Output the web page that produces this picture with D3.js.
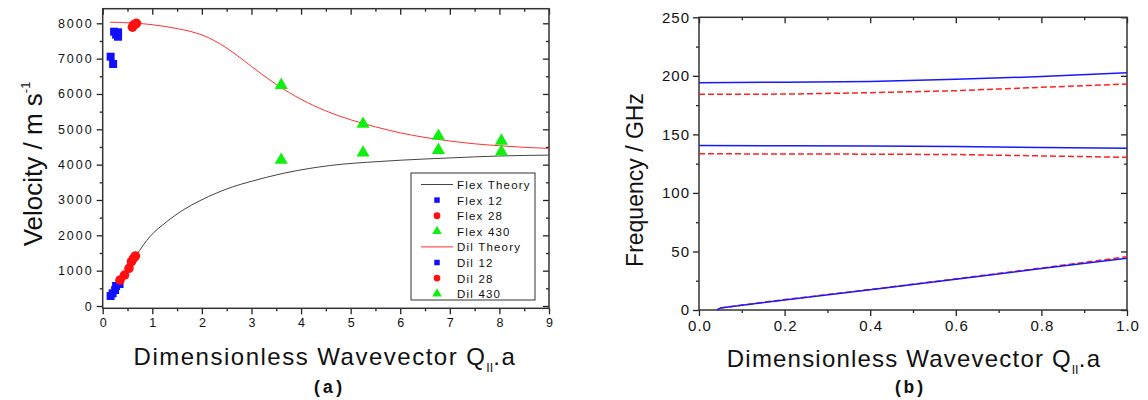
<!DOCTYPE html>
<html>
<head>
<meta charset="utf-8">
<script src="https://cdn.jsdelivr.net/npm/d3@7"></script>
<style>
body { margin: 0; background: #fff; }
text { font-family: Arial, "Liberation Sans", sans-serif; fill: #111; }
</style>
</head>
<body>
<script>
//---- panel (a) data ----
var dilTheoryX = [0.15, 0.5, 1.0, 1.5, 2.0, 2.5, 3.0, 3.5, 4.0, 4.5, 5.0, 5.5, 6.0, 6.5, 7.0, 7.5, 8.0, 8.5, 9.0];
var dilTheoryY = [8030, 8015, 7960, 7850, 7670, 7300, 6780, 6270, 5850, 5520, 5270, 5070, 4900, 4770, 4670, 4590, 4535, 4490, 4460];
var flexTheoryX = [0.15, 0.3, 0.45, 0.68, 0.95, 1.29, 1.62, 1.96, 2.3, 2.63, 2.97, 3.3, 3.64, 3.98, 4.58, 5.59, 6.0, 7.0, 8.0, 9.0];
var flexTheoryY = [280, 620, 960, 1443, 1960, 2385, 2716, 2980, 3200, 3376, 3517, 3641, 3755, 3848, 3975, 4090, 4125, 4190, 4245, 4270];

var flex12X = [0.16, 0.21, 0.23, 0.31, 0.31, 0.27];
var flex12Y = [7055, 6848, 7762, 7745, 7620, 7680];
var flex28X = [0.62, 0.66, 0.60, 0.68];
var flex28Y = [7951, 7980, 7890, 8000];
var flex430X = [3.6, 5.25, 6.77, 8.04];
var flex430Y = [6250, 5150, 4810, 4670];

var dil12X = [0.16, 0.20, 0.25, 0.27, 0.34];
var dil12Y = [283, 360, 450, 566, 622];
var dil28X = [0.35, 0.44, 0.53, 0.58, 0.62, 0.66];
var dil28Y = [736, 877, 1066, 1254, 1349, 1415];
var dil430X = [3.6, 5.25, 6.77, 8.04];
var dil430Y = [4130, 4335, 4410, 4365];

var legendLabels = ["Flex Theory", "Flex 12", "Flex 28", "Flex 430", "Dil Theory", "Dil 12", "Dil 28", "Dil 430"];

//---- panel (b) data ----
var qX = [0.0, 0.2, 0.4, 0.6, 0.8, 1.0];
var blueUpper = [194.2, 194.5, 195.2, 197.0, 199.4, 202.7];
var redUpper = [184.2, 184.4, 185.6, 187.3, 190.2, 193.0];
var blueMiddle = [140.4, 140.3, 140.1, 139.6, 138.7, 138.1];
var redMiddle = [133.4, 133.3, 133.1, 132.8, 131.6, 130.4];
var blueLowX = [0.042, 0.05, 0.2, 0.4, 0.6, 0.8, 1.0];
var blueLowY = [0, 1.8, 8.6, 17.2, 26.3, 35.4, 44.2];
var redLowX = [0.05, 0.2, 0.4, 0.6, 0.8, 1.0];
var redLowY = [1.8, 8.9, 17.5, 26.6, 35.9, 45.5];

var width = 1148, height = 400;

var svg = d3.select("body").append("svg")
    .attr("width", width)
    .attr("height", height);

function zip(xs, ys){
    return xs.map(function(x, i){ return [x, ys[i]]; });
}

//draw frame with outward ticks on bottom/left, inward on top/right
function drawFrame(g, x, y, opt){
    var x0 = x.range()[0], x1 = x.range()[1], y0 = y.range()[0], y1 = y.range()[1];

    var minorX = d3.range(opt.xMin[0], opt.xMin[1] + 1e-9, opt.xMin[2]);
    var minorY = d3.range(opt.yMin[0], opt.yMin[1] + 1e-9, opt.yMin[2]);

    var bottom = g.append("g").attr("transform", "translate(0," + y0 + ")")
        .call(d3.axisBottom(x).tickValues(opt.xTicks).tickFormat(opt.xFmt).tickSize(6).tickSizeOuter(0).tickPadding(4));
    g.append("g").attr("transform", "translate(0," + y0 + ")")
        .call(d3.axisBottom(x).tickValues(minorX).tickFormat("").tickSize(3).tickSizeOuter(0));
    g.append("g").attr("transform", "translate(" + x0 + ",0)")
        .call(d3.axisLeft(y).tickValues(opt.yTicks).tickFormat(d3.format("d")).tickSize(6).tickSizeOuter(0).tickPadding(opt.yPad));
    g.append("g").attr("transform", "translate(" + x0 + ",0)")
        .call(d3.axisLeft(y).tickValues(minorY).tickFormat("").tickSize(3).tickSizeOuter(0));

    g.append("g").attr("transform", "translate(0," + y1 + ")")
        .call(d3.axisTop(x).tickValues(opt.xTicks).tickFormat("").tickSize(-6).tickSizeOuter(0));
    g.append("g").attr("transform", "translate(0," + y1 + ")")
        .call(d3.axisTop(x).tickValues(minorX).tickFormat("").tickSize(-3).tickSizeOuter(0));
    g.append("g").attr("transform", "translate(" + x1 + ",0)")
        .call(d3.axisRight(y).tickValues(opt.yTicks).tickFormat("").tickSize(-6).tickSizeOuter(0));
    g.append("g").attr("transform", "translate(" + x1 + ",0)")
        .call(d3.axisRight(y).tickValues(minorY).tickFormat("").tickSize(-3).tickSizeOuter(0));

    g.selectAll(".domain").remove();
    g.selectAll(".tick line").attr("stroke", "#222").attr("stroke-width", 1.3);
    g.selectAll(".tick text")
        .style("font-family", "Arial, 'Liberation Sans', sans-serif")
        .style("font-size", opt.tickFont + "px")
        .style("letter-spacing", opt.tickSpacing + "px")
        .attr("fill", "#111");
    bottom.selectAll(".tick text").attr("dx", opt.tickSpacing / 2);

    g.append("rect")
        .attr("x", x0).attr("y", y1)
        .attr("width", x1 - x0).attr("height", y0 - y1)
        .attr("fill", "none").attr("stroke", "#333").attr("stroke-width", 1.5);
}

//x label with Q subscript ll
function xLabel(g, cx, cy, size, sp){
    var t = g.append("text")
        .attr("x", cx).attr("y", cy)
        .attr("text-anchor", "middle")
        .style("font-size", size + "px")
        .style("letter-spacing", sp + "px");
    t.append("tspan").text("Dimensionless Wavevector Q");
    t.append("tspan").text("ll").attr("fill", "#111")
        .style("font-size", (size * 0.55) + "px").style("letter-spacing", "0.5px").attr("dy", 7);
    t.append("tspan").text(".a").attr("dy", -7);
}

//================ panel (a) ================
var xa = d3.scaleLinear().domain([0, 9]).range([102.7, 549]);
var ya = d3.scaleLinear().domain([-65, 8413]).range([308.3, 8.7]);

var ga = svg.append("g");

drawFrame(ga, xa, ya, {
    xTicks: d3.range(0, 10, 1), xFmt: d3.format("d"), xMin: [0.5, 8.5, 1],
    yTicks: d3.range(0, 8001, 1000), yMin: [500, 7500, 1000],
    tickFont: 12.5, tickSpacing: 2, yPad: 3
});

var flexLine = d3.line()
    .x(function(d){ return xa(d[0]); })
    .y(function(d){ return ya(d[1]); })
    .curve(d3.curveMonotoneX);
var dilLine = d3.line()
    .x(function(d){ return xa(d[0]); })
    .y(function(d){ return ya(d[1]); })
    .curve(d3.curveNatural);

ga.append("path").datum(zip(flexTheoryX, flexTheoryY))
    .attr("d", flexLine).attr("fill", "none").attr("stroke", "#444").attr("stroke-width", 1);
ga.append("path").datum(zip(dilTheoryX, dilTheoryY))
    .attr("d", dilLine).attr("fill", "none").attr("stroke", "#ff3030").attr("stroke-width", 1);

var blue = "#1010ff", red = "#ff1010", green = "#10f010";
var sq = d3.symbol().type(d3.symbolSquare).size(64);
var ci = d3.symbol().type(d3.symbolCircle).size(72);
var tri = d3.symbol().type(d3.symbolTriangle).size(75);

function scatter(xs, ys, sym, col){
    ga.selectAll(null).data(zip(xs, ys)).enter()
        .append("path")
        .attr("d", sym)
        .attr("transform", function(d){ return "translate(" + xa(d[0]) + "," + ya(d[1]) + ")"; })
        .attr("fill", col);
}
scatter(flex12X, flex12Y, sq, blue);
scatter(dil12X, dil12Y, sq, blue);
scatter(flex28X, flex28Y, ci, red);
scatter(dil28X, dil28Y, ci, red);
scatter(flex430X, flex430Y, tri, green);
scatter(dil430X, dil430Y, tri, green);

//legend
var leg = ga.append("g");
leg.append("rect")
    .attr("x", 411).attr("y", 173).attr("width", 124).attr("height", 127)
    .attr("fill", "#fff").attr("stroke", "#333").attr("stroke-width", 1);
var legKinds = ["line", "sq", "ci", "tri", "line", "sq", "ci", "tri"];
var legCols = ["#444", blue, red, green, "#ff3030", blue, red, green];
legendLabels.forEach(function(lbl, i){
    var yy = 184.5 + i * 15.6;
    if (legKinds[i] == "line") {
        leg.append("line").attr("x1", 421).attr("x2", 453).attr("y1", yy).attr("y2", yy)
            .attr("stroke", legCols[i]).attr("stroke-width", 1);
    } else {
        var s = legKinds[i] == "sq" ? d3.symbol().type(d3.symbolSquare).size(30)
              : legKinds[i] == "ci" ? d3.symbol().type(d3.symbolCircle).size(36)
              : d3.symbol().type(d3.symbolTriangle).size(40);
        leg.append("path").attr("d", s).attr("transform", "translate(437," + yy + ")").attr("fill", legCols[i]);
    }
    leg.append("text").attr("x", 457).attr("y", yy + 4.5)
        .style("font-size", "11.5px").style("letter-spacing", "1.2px").text(lbl);
});

//axis titles
var yt = ga.append("text")
    .attr("transform", "translate(42,164) rotate(-90)")
    .attr("text-anchor", "middle")
    .style("font-size", "26px");
yt.append("tspan").text("Velocity / m s");
yt.append("tspan").text("-1").style("font-size", "13px").attr("dy", -12);

xLabel(ga, 325, 365, 24, 1.5);
ga.append("text").attr("x", 328).attr("y", 393).attr("text-anchor", "middle")
    .style("font-family", "'Liberation Mono', 'Courier New', monospace")
    .style("font-weight", "bold").style("font-size", "18px").text("(a)");

//================ panel (b) ================
var xb = d3.scaleLinear().domain([0, 1]).range([699, 1127]);
var yb = d3.scaleLinear().domain([0, 250]).range([310, 17.3]);

var gb = svg.append("g");

drawFrame(gb, xb, yb, {
    xTicks: d3.range(0, 1.01, 0.2), xFmt: d3.format(".1f"), xMin: [0.1, 0.9, 0.2],
    yTicks: d3.range(0, 251, 50), yMin: [25, 225, 50],
    tickFont: 15, tickSpacing: 1, yPad: 3
});

var lineb = d3.line()
    .x(function(d){ return xb(d[0]); })
    .y(function(d){ return yb(d[1]); });

function modeLine(xs, ys, col, dashed){
    gb.append("path").datum(zip(xs, ys))
        .attr("d", lineb).attr("fill", "none")
        .attr("stroke", col).attr("stroke-width", 1.5)
        .attr("stroke-dasharray", dashed ? "6,3" : null);
}
modeLine(qX, redUpper, "#ff2020", true);
modeLine(qX, redMiddle, "#ff2020", true);
modeLine(redLowX, redLowY, "#ff2020", true);
modeLine(qX, blueUpper, "#1818ff", false);
modeLine(qX, blueMiddle, "#1818ff", false);
modeLine(blueLowX, blueLowY, "#1818ff", false);

gb.append("text")
    .attr("transform", "translate(643,180) rotate(-90)")
    .attr("text-anchor", "middle")
    .style("font-size", "23px")
    .text("Frequency / GHz");

xLabel(gb, 914, 367, 24, 1.2);
gb.append("text").attr("x", 909).attr("y", 393).attr("text-anchor", "middle")
    .style("font-family", "'Liberation Mono', 'Courier New', monospace")
    .style("font-weight", "bold").style("font-size", "18px").text("(b)");
</script>
</body>
</html>
